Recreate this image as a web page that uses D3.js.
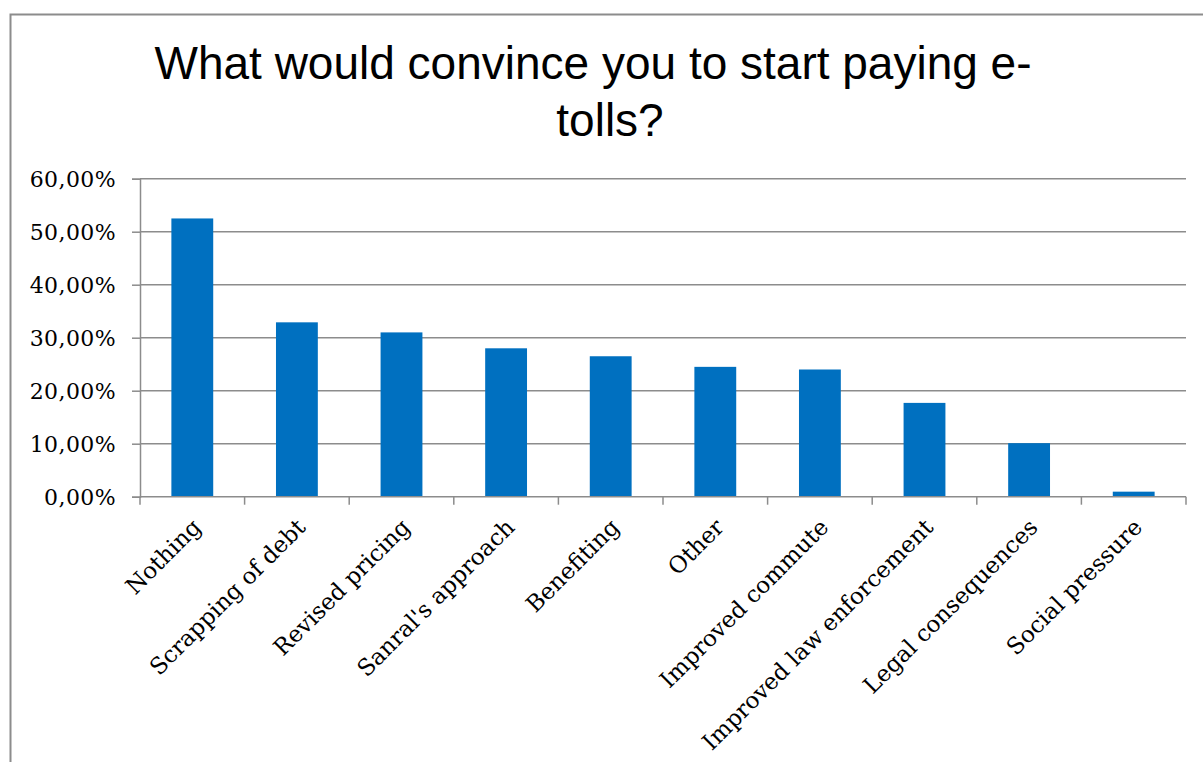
<!DOCTYPE html>
<html>
<head>
<meta charset="utf-8">
<script src="https://cdn.jsdelivr.net/npm/d3@7"></script>
<style>
  body { margin: 0; background: #fff; }
  .grid line { stroke: #8c8c8c; stroke-width: 1.5; }
  .axis path, .axis line { stroke: #8c8c8c; stroke-width: 1.5; }
  .axis text { font-family: "DejaVu Serif", serif; fill: #000; }
</style>
</head>
<body>
<div class="cont"></div>
<script>
var categories = ["Nothing", "Scrapping of debt", "Revised pricing", "Sanral's approach",
  "Benefiting", "Other", "Improved commute", "Improved law enforcement",
  "Legal consequences", "Social pressure"];
var values = [0.525, 0.329, 0.310, 0.280, 0.265, 0.245, 0.240, 0.177, 0.101, 0.0095];
var yTicks = [0, 0.1, 0.2, 0.3, 0.4, 0.5, 0.6];
var titleLines = ["What would convince you to start paying e-", "tolls?"];

var w = 1203,
h = 762;

var svg = d3.select(".cont").append("svg").
attr("width", w).
attr("height", h);

// chart frame, runs off the right and bottom edge like the source
svg.append("rect").
attr("x", 10.5).
attr("y", 14.5).
attr("width", 1300).
attr("height", 900).
attr("fill", "none").
attr("stroke", "#8c8c8c").
attr("stroke-width", 2);

svg.selectAll("text.title").
data(titleLines).
enter().append("text").
attr("class", "title").
attr("x", function (d, i) {return i == 0 ? 593 : 610;}).
attr("y", function (d, i) {return 79 + i * 57;}).
attr("text-anchor", "middle").
style("font-family", "'Liberation Sans', Arial, sans-serif").
style("font-size", "46px").
text(function (d) {return d;});

var x = d3.scaleBand().
domain(categories).
range([140, 1186]).
paddingInner(0.6).
paddingOuter(0.3);

var y = d3.scaleLinear().
domain([0, 0.6]).
range([496.7, 178.7]);

svg.append("g").
attr("class", "grid").
selectAll("line").
data(yTicks.slice(1)).
enter().append("line").
attr("x1", 140).
attr("x2", 1186).
attr("y1", function (d) {return y(d);}).
attr("y2", function (d) {return y(d);});

svg.append("g").
selectAll("rect").
data(values).
enter().append("rect").
attr("x", function (d, i) {return x(categories[i]);}).
attr("width", x.bandwidth()).
attr("y", function (d) {return y(d);}).
attr("height", function (d) {return y(0) - y(d);}).
attr("fill", "#0070c0");

var fmt = function (d) {return d3.format(".2f")(d * 100).replace(".", ",") + "%";};

var yAxis = d3.axisLeft(y).
tickValues(yTicks).
tickSize(8).
tickPadding(16).
tickFormat(fmt);

svg.append("g").
attr("class", "axis").
attr("transform", "translate(140,0)").
call(yAxis).
selectAll("text").
attr("dy", "0.35em").
style("font-size", "22px").
style("letter-spacing", "0.4px");

// x axis line and ticks at band edges
var step = x.step();
var edges = d3.range(categories.length + 1).map(function (i) {return 140 + i * step;});
var xg = svg.append("g").attr("class", "axis");
xg.append("line").
attr("x1", 140).attr("x2", 1186).
attr("y1", y(0)).attr("y2", y(0));
xg.selectAll("line.tick").
data(edges).
enter().append("line").
attr("class", "tick").
attr("x1", function (d) {return d;}).
attr("x2", function (d) {return d;}).
attr("y1", y(0)).
attr("y2", y(0) + 8);

xg.selectAll("text").
data(categories).
enter().append("text").
attr("text-anchor", "end").
style("font-size", "23px").
attr("transform", function (d) {
  var cx = x(d) + x.bandwidth() / 2 + 10;
  return "translate(" + cx + "," + (y(0) + 32) + ") rotate(-45)";
}).
text(function (d) {return d;});
</script>
</body>
</html>
